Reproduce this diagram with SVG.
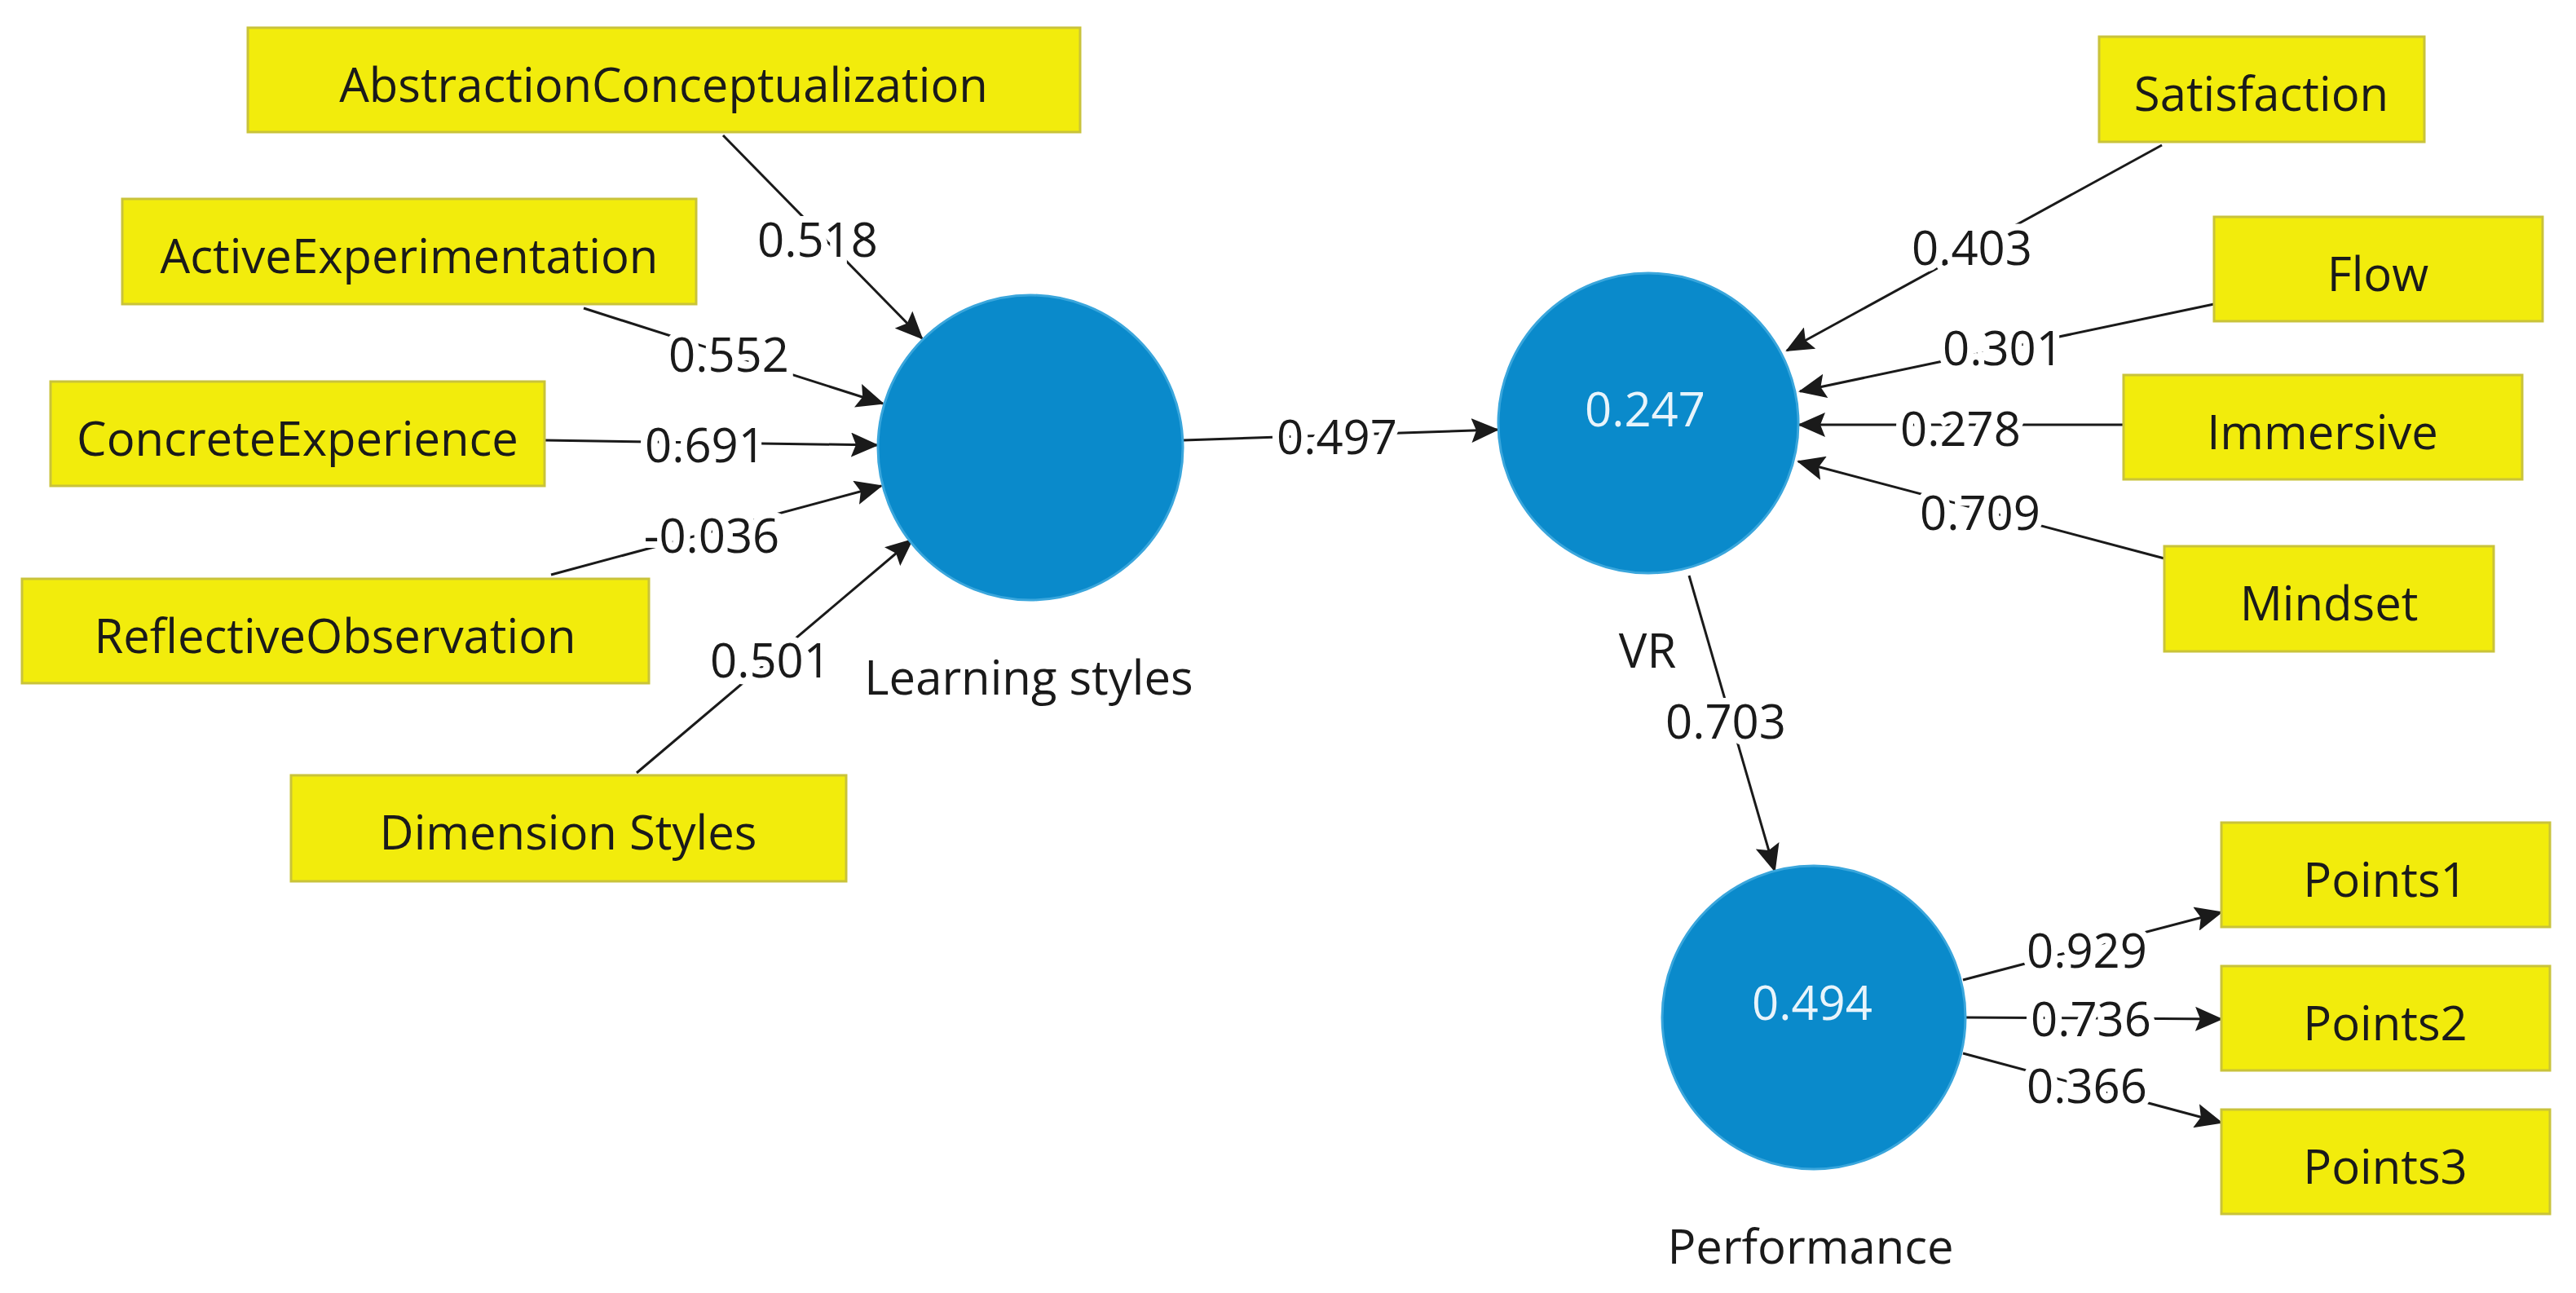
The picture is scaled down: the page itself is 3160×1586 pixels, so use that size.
<svg xmlns="http://www.w3.org/2000/svg" width="3160" height="1586" viewBox="0 0 3160 1586">
<style>
.box{fill:#f2ec0c;stroke:#c9c33a;stroke-width:3}
.lv{fill:#0a8acb;stroke:#3aa6dc;stroke-width:3}
text{font-family:"Open Sans","Noto Sans",sans-serif;font-size:58px;fill:#1a1a1a;text-anchor:middle;dominant-baseline:central}
.w{fill:#e8f4fb}
.lb{paint-order:stroke;stroke:#fff;stroke-width:16px}
.c{stroke:#1a1a1a;stroke-width:3;fill:none}
.a{marker-end:url(#ah)}
</style>
<defs>
<marker id="ah" markerUnits="userSpaceOnUse" markerWidth="34" markerHeight="30" refX="32" refY="15" orient="auto">
<path d="M0,0 L34,15 L0,30 L6,15 Z" fill="#1a1a1a"/>
</marker>
</defs>
<rect width="3160" height="1586" fill="#fff"/>
<g id="connectors">
<line class="c a" x1="887" y1="166" x2="1131" y2="415"/>
<line class="c a" x1="716" y1="378" x2="1083" y2="495"/>
<line class="c a" x1="668" y1="540" x2="1076" y2="546"/>
<line class="c a" x1="676" y1="705" x2="1081" y2="596"/>
<line class="c a" x1="781" y1="948" x2="1119" y2="662"/>
<line class="c a" x1="1452" y1="540" x2="1837" y2="527"/>
<line class="c a" x1="2652" y1="178" x2="2192" y2="430"/>
<line class="c a" x1="2716" y1="373" x2="2208" y2="480"/>
<line class="c a" x1="2605" y1="521" x2="2207" y2="521"/>
<line class="c a" x1="2655" y1="685" x2="2206" y2="566"/>
<line class="c a" x1="2072" y1="706" x2="2177" y2="1068"/>
<line class="c a" x1="2408" y1="1202" x2="2725" y2="1119"/>
<line class="c a" x1="2412" y1="1248" x2="2725" y2="1250"/>
<line class="c a" x1="2408" y1="1292" x2="2725" y2="1377"/>
<text class="lb" x="1003" y="292">0.518</text>
<text class="lb" x="894" y="433">0.552</text>
<text class="lb" x="865" y="544">0.691</text>
<text class="lb" x="873" y="655">-0.036</text>
<text class="lb" x="945" y="808">0.501</text>
<text class="lb" x="1640" y="534">0.497</text>
<text class="lb" x="2419" y="302">0.403</text>
<text class="lb" x="2457" y="425">0.301</text>
<text class="lb" x="2405" y="524">0.278</text>
<text class="lb" x="2429" y="627">0.709</text>
<text class="lb" x="2117" y="883">0.703</text>
<text class="lb" x="2560" y="1164">0.929</text>
<text class="lb" x="2565" y="1248">0.736</text>
<text class="lb" x="2560" y="1330">0.366</text>
</g>
<g id="AbstractionConceptualization"><rect class="box" x="304" y="34" width="1021" height="128"/><text x="814" y="102">AbstractionConceptualization</text></g>
<g id="ActiveExperimentation"><rect class="box" x="150" y="244" width="704" height="129"/><text x="502" y="312">ActiveExperimentation</text></g>
<g id="ConcreteExperience"><rect class="box" x="62" y="468" width="606" height="128"/><text x="365" y="536">ConcreteExperience</text></g>
<g id="ReflectiveObservation"><rect class="box" x="27" y="710" width="769" height="128"/><text x="411" y="778">ReflectiveObservation</text></g>
<g id="DimensionStyles"><rect class="box" x="357" y="951" width="681" height="130"/><text x="697" y="1019">Dimension Styles</text></g>
<g id="LearningStyles"><circle class="lv" cx="1264" cy="549" r="187"/><text x="1262" y="829">Learning styles</text></g>
<g id="VR"><circle class="lv" cx="2022" cy="519" r="184"/><text class="w" x="2018" y="500">0.247</text><text x="2021" y="796">VR</text></g>
<g id="Performance"><circle class="lv" cx="2225" cy="1248" r="186"/><text class="w" x="2223" y="1228">0.494</text><text x="2221" y="1527">Performance</text></g>
<g id="Satisfaction"><rect class="box" x="2575" y="45" width="399" height="129"/><text x="2774" y="113">Satisfaction</text></g>
<g id="Flow"><rect class="box" x="2716" y="266" width="403" height="128"/><text x="2917" y="334">Flow</text></g>
<g id="Immersive"><rect class="box" x="2605" y="460" width="489" height="128"/><text x="2849" y="528">Immersive</text></g>
<g id="Mindset"><rect class="box" x="2655" y="670" width="404" height="129"/><text x="2857" y="738">Mindset</text></g>
<g id="Points1"><rect class="box" x="2725" y="1009" width="403" height="128"/><text x="2926" y="1077">Points1</text></g>
<g id="Points2"><rect class="box" x="2725" y="1185" width="403" height="128"/><text x="2926" y="1253">Points2</text></g>
<g id="Points3"><rect class="box" x="2725" y="1361" width="403" height="128"/><text x="2926" y="1429">Points3</text></g>
</svg>
